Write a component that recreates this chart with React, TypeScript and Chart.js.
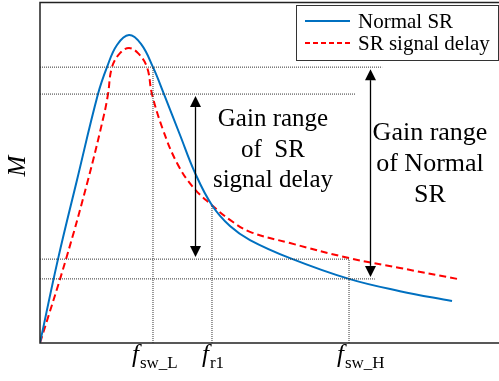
import React, { useEffect, useRef } from 'react';
import { Chart, registerables } from 'chart.js';
Chart.register(...registerables);

// Normalised frequency (0–100) and gain M (0–1)
const normalFreq = [0, 3.93, 8.08, 12.66, 14.63, 16.81, 19.43, 22.05, 24.67, 27.07, 30.57, 33.84, 37.55, 41.48, 45.85, 54.59, 67.47, 78.6, 89.96];
const normalGain = [0, 0.246, 0.478, 0.73, 0.809, 0.874, 0.903, 0.877, 0.809, 0.73, 0.61, 0.499, 0.404, 0.343, 0.302, 0.249, 0.188, 0.152, 0.123];

const delayFreq = [0, 5.68, 10.48, 13.97, 14.85, 15.72, 17.47, 19.43, 21.4, 23.36, 24.45, 26.86, 29.91, 33.41, 37.55, 41.48, 45.85, 54.59, 67.47, 78.6, 91.05];
const delayGain = [0, 0.246, 0.478, 0.669, 0.73, 0.809, 0.85, 0.865, 0.85, 0.809, 0.73, 0.625, 0.528, 0.457, 0.404, 0.361, 0.326, 0.293, 0.249, 0.22, 0.188];

// Horizontal reference gain levels and where they stop
const refLevels = [0.809, 0.73, 0.246, 0.188];
const refEnds = [74.7, 68.8, 67.5, 73.1];

// Frequency markers (vertical dotted lines) and their heights
const markFreq = [24.67, 37.55, 67.47];
const markTop = [0.809, 0.404, 0.246];
const markMain = ['f', 'f', 'f'];
const markSub = ['sw_L', 'r1', 'sw_H'];

// Gain range arrows
const arrowFreq = [33.84, 72.1];
const arrowHigh = [0.73, 0.809];
const arrowLow = [0.246, 0.188];

const delayText = ['Gain range', 'of  SR', 'signal delay'];
const normalText = ['Gain range', 'of Normal', 'SR'];
const legendLabels = ['Normal SR', 'SR signal delay'];

const BLUE = '#0070C0';
const RED = '#FF0000';
const SERIF = '"Liberation Serif", "Times New Roman", serif';

const toPts = (xs: number[], ys: number[]) => xs.map((x, i) => ({ x, y: ys[i] }));

export default function App() {
  const ref = useRef<HTMLCanvasElement>(null);
  useEffect(() => {
    const canvas = ref.current!;
    const refSets = refLevels.map((lv, i) => ({
      data: [{ x: 0, y: lv }, { x: refEnds[i], y: lv }],
      borderColor: '#333',
      borderWidth: 1,
      borderDash: [1, 1],
      pointRadius: 0,
      tension: 0,
    }));
    const markSets = markFreq.map((f, i) => ({
      data: [{ x: f, y: 0 }, { x: f, y: markTop[i] }],
      borderColor: '#333',
      borderWidth: 1,
      borderDash: [1, 1],
      pointRadius: 0,
      tension: 0,
    }));

    const overlay = {
      id: 'overlay',
      afterDraw(chart: any) {
        const c = chart.ctx as CanvasRenderingContext2D;
        const xs = chart.scales.x;
        const ys = chart.scales.y;
        const area = chart.chartArea;
        c.save();
        // frame
        c.strokeStyle = '#222';
        c.lineWidth = 1.5;
        c.beginPath();
        c.moveTo(499, area.top + 0.5);
        c.lineTo(area.left, area.top + 0.5);
        c.lineTo(area.left, area.bottom);
        c.lineTo(499, area.bottom);
        c.stroke();

        // arrows
        c.fillStyle = '#000';
        c.strokeStyle = '#000';
        arrowFreq.forEach((f, i) => {
          const x = Math.round(xs.getPixelForValue(f)) + 0.5;
          const yT = ys.getPixelForValue(arrowHigh[i]) + 2;
          const yB = ys.getPixelForValue(arrowLow[i]) - 2;
          const hw = 5.5, hl = 11;
          c.lineWidth = 1.3;
          c.beginPath();
          c.moveTo(x, yT + hl);
          c.lineTo(x, yB - hl);
          c.stroke();
          c.beginPath();
          c.moveTo(x, yT);
          c.lineTo(x - hw, yT + hl);
          c.lineTo(x + hw, yT + hl);
          c.closePath();
          c.fill();
          c.beginPath();
          c.moveTo(x, yB);
          c.lineTo(x - hw, yB - hl);
          c.lineTo(x + hw, yB - hl);
          c.closePath();
          c.fill();
        });

        // gain range texts
        c.fillStyle = '#000';
        c.textAlign = 'center';
        c.textBaseline = 'alphabetic';
        c.font = `25px ${SERIF}`;
        delayText.forEach((t, i) => c.fillText(t, 273, 126 + i * 30.5));
        c.font = `26px ${SERIF}`;
        normalText.forEach((t, i) => c.fillText(t, 430, 140 + i * 31));

        // x labels
        const offs = [-21, -10, -12];
        c.textAlign = 'left';
        markFreq.forEach((f, i) => {
          const px = xs.getPixelForValue(f) + offs[i];
          c.font = `italic 25px ${SERIF}`;
          c.fillText(markMain[i], px, 362);
          const w = c.measureText(markMain[i]).width;
          c.font = `17px ${SERIF}`;
          c.fillText(markSub[i], px + w + 1, 368);
        });

        // y title
        c.save();
        c.translate(18, 166);
        c.rotate(-Math.PI / 2);
        c.textAlign = 'center';
        c.textBaseline = 'middle';
        c.font = `italic 25px ${SERIF}`;
        c.fillText('M', 0, 0);
        c.restore();

        // legend
        c.fillStyle = '#fff';
        c.fillRect(296.5, 5.5, 202, 55);
        c.strokeStyle = '#333';
        c.lineWidth = 1;
        c.strokeRect(296.5, 5.5, 202, 55);
        c.lineWidth = 2;
        c.strokeStyle = BLUE;
        c.setLineDash([]);
        c.beginPath();
        c.moveTo(305, 21);
        c.lineTo(350, 21);
        c.stroke();
        c.strokeStyle = RED;
        c.setLineDash([5, 3]);
        c.beginPath();
        c.moveTo(305, 43);
        c.lineTo(350, 43);
        c.stroke();
        c.setLineDash([]);
        c.fillStyle = '#000';
        c.font = `21px ${SERIF}`;
        c.textAlign = 'left';
        c.fillText(legendLabels[0], 358, 28);
        c.fillText(legendLabels[1], 358, 50);
        c.restore();
      },
    };

    const chart = new Chart(canvas, {
      type: 'line',
      data: {
        datasets: [
          ...refSets,
          ...markSets,
          {
            label: legendLabels[0],
            data: toPts(normalFreq, normalGain),
            borderColor: BLUE,
            borderWidth: 2,
            pointRadius: 0,
            tension: 0.4,
          },
          {
            label: legendLabels[1],
            data: toPts(delayFreq, delayGain),
            borderColor: RED,
            borderWidth: 2,
            borderDash: [7, 4],
            pointRadius: 0,
            tension: 0.4,
          },
        ] as any,
      },
      options: {
        responsive: false,
        animation: false,
        layout: { padding: { left: 40, top: 2, right: 1, bottom: 38 } },
        scales: {
          x: { type: 'linear', min: 0, max: 100, display: false },
          y: { type: 'linear', min: 0, max: 1, display: false },
        },
        plugins: { legend: { display: false }, tooltip: { enabled: false } },
      },
      plugins: [overlay],
    });
    return () => chart.destroy();
  }, []);
  return (
    <div style={{ position: 'fixed', left: 0, top: 0, width: 499, height: 381, background: '#fff' }}>
      <canvas ref={ref} width={499} height={381} style={{ width: 499, height: 381, display: 'block' }} />
    </div>
  );
}
